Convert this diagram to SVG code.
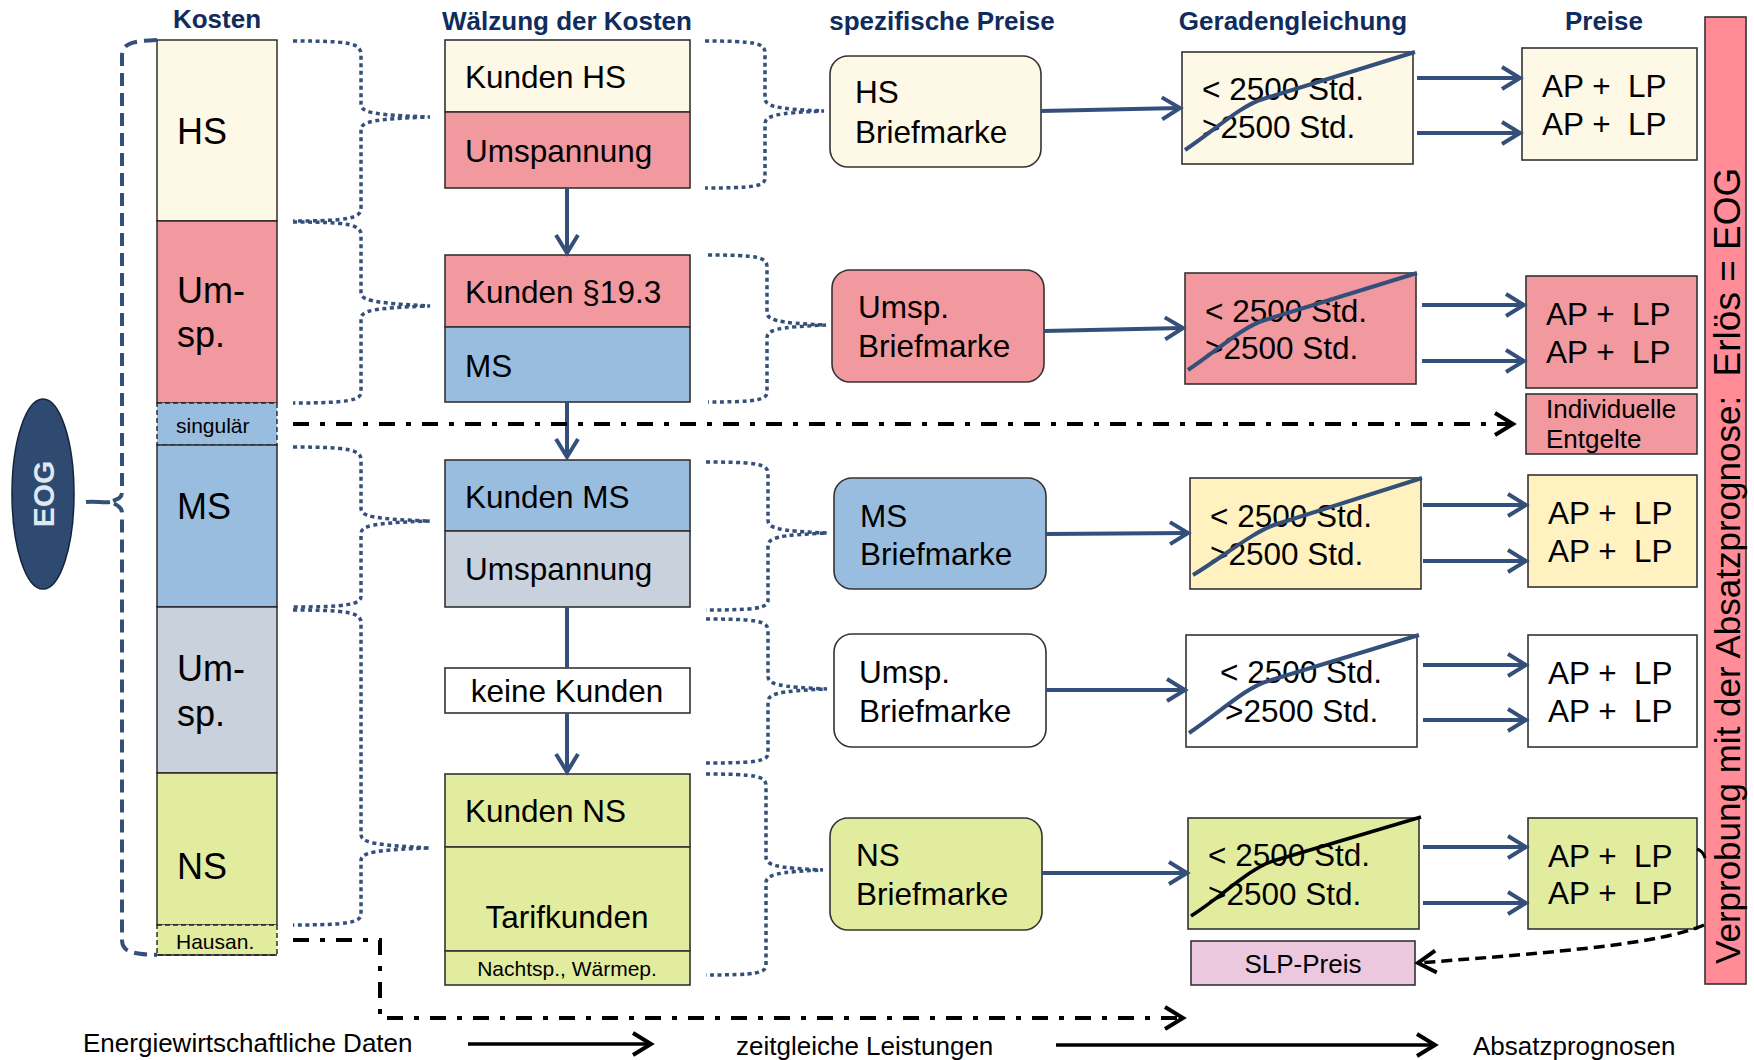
<svg xmlns="http://www.w3.org/2000/svg" width="1754" height="1060" viewBox="0 0 1754 1060">
<style>
text{font-family:"Liberation Sans",Arial,sans-serif;fill:#000}
.t{font-weight:bold;font-size:26px;fill:#102c5c;text-anchor:middle}
.big{font-size:36px}
.m{font-size:31.5px}
.s{font-size:21px}
.lab{font-size:26px}
.mid{text-anchor:middle}
.pre{white-space:pre}
.box{stroke:#333;stroke-width:1.6}
.cell{stroke:#222;stroke-width:1.4}
.dsh{fill:none;stroke:#222;stroke-width:1.4;stroke-dasharray:5 3}
.brace{fill:none;stroke:#34507a;stroke-width:3.5;stroke-dasharray:4 3.5}
.con{fill:none;stroke:#34507a;stroke-width:4}
.blk{fill:none;stroke:#000;stroke-width:3.5}
.dd{fill:none;stroke:#000;stroke-width:4;stroke-dasharray:16 11 5 11}
.cream{fill:#fef8e6}.pink{fill:#f2989f}.blue{fill:#99bddf}.gray{fill:#c9d1dd}
.green{fill:#e2ec9e}.yel{fill:#fff2c0}.white{fill:#fff}.lilac{fill:#ebc8de}
</style>
<defs>
<marker id="aBlue" viewBox="0 -2 22 26" refX="20" refY="11" markerWidth="22" markerHeight="26" markerUnits="userSpaceOnUse" orient="auto" overflow="visible">
<path d="M2,0 L20,11 L2,22" fill="none" stroke="#34507a" stroke-width="4" stroke-linejoin="miter"/>
</marker>
<marker id="aBlack" viewBox="0 -2 22 26" refX="20" refY="11" markerWidth="22" markerHeight="26" markerUnits="userSpaceOnUse" orient="auto" overflow="visible">
<path d="M2,0 L20,11 L2,22" fill="none" stroke="#000" stroke-width="4"/>
</marker>
</defs>

<!-- column headings -->
<g id="headings">
<text class="t" x="217" y="28">Kosten</text>
<text class="t" x="567" y="30">Wälzung der Kosten</text>
<text class="t" x="942" y="30">spezifische Preise</text>
<text class="t" x="1293" y="30">Geradengleichung</text>
<text class="t" x="1604" y="30">Preise</text>
</g>

<!-- EOG ellipse -->
<g id="eog">
<ellipse cx="43" cy="494" rx="31" ry="95" fill="#2f4a70" stroke="#15233a" stroke-width="1.5"/>
<text transform="translate(54,494) rotate(-90)" text-anchor="middle" font-weight="bold" font-size="30" style="fill:#dfe7f1">EOG</text>
</g>

<!-- cost column -->
<g id="kosten">
<rect class="cell cream" x="157" y="40" width="120" height="181"/>
<rect class="cell pink" x="157" y="221" width="120" height="182"/>
<rect x="157" y="403" width="120" height="42" class="blue"/>
<rect class="dsh" x="157" y="403" width="120" height="42"/>
<rect class="cell blue" x="157" y="445" width="120" height="162"/>
<rect class="cell gray" x="157" y="607" width="120" height="166"/>
<rect class="cell green" x="157" y="773" width="120" height="152"/>
<rect x="157" y="925" width="120" height="30" class="green"/>
<rect class="dsh" x="157" y="925" width="120" height="30"/>
<line x1="157" y1="955" x2="277" y2="955" stroke="#222" stroke-width="1.4"/>
<text class="big" x="177" y="144">HS</text>
<text class="big" x="177" y="303">Um-</text>
<text class="big" x="177" y="347">sp.</text>
<text class="s" x="176" y="433">singulär</text>
<text class="big" x="177" y="519">MS</text>
<text class="big" x="177" y="681">Um-</text>
<text class="big" x="177" y="726">sp.</text>
<text class="big" x="177" y="879">NS</text>
<text class="s" x="176" y="949">Hausan.</text>
</g>

<!-- cost rolling column -->
<g id="waelzung-hs">
<rect class="box cream" x="445" y="40" width="245" height="72"/>
<rect class="box pink" x="445" y="112" width="245" height="76"/>
<text class="m" x="465" y="88">Kunden HS</text>
<text class="m" x="465" y="162">Umspannung</text>
</g>
<g id="waelzung-19">
<rect class="box pink" x="445" y="255" width="245" height="72"/>
<rect class="box blue" x="445" y="327" width="245" height="75"/>
<text class="m" x="465" y="303">Kunden §19.3</text>
<text class="m" x="465" y="377">MS</text>
</g>
<g id="waelzung-ms">
<rect class="box blue" x="445" y="460" width="245" height="71"/>
<rect class="box gray" x="445" y="531" width="245" height="76"/>
<text class="m" x="465" y="508">Kunden MS</text>
<text class="m" x="465" y="580">Umspannung</text>
</g>
<g id="keine-kunden">
<rect class="box white" x="445" y="668" width="245" height="45"/>
<text class="m mid" x="567" y="702">keine Kunden</text>
</g>
<g id="waelzung-ns">
<rect class="box green" x="445" y="774" width="245" height="73"/>
<rect class="box green" x="445" y="847" width="245" height="104"/>
<rect class="box green" x="445" y="951" width="245" height="34"/>
<text class="m" x="465" y="822">Kunden NS</text>
<text class="m mid" x="567" y="928">Tarifkunden</text>
<text class="s mid" x="567" y="976">Nachtsp., Wärmep.</text>
</g>

<!-- stamp prices -->
<g id="bm-hs">
<rect class="box cream" x="830" y="56" width="211" height="111" rx="18"/>
<text class="m" x="855" y="103">HS</text>
<text class="m" x="855" y="143">Briefmarke</text>
</g>
<g id="bm-umsp1">
<rect class="box pink" x="832" y="270" width="212" height="112" rx="18"/>
<text class="m" x="858" y="318">Umsp.</text>
<text class="m" x="858" y="357">Briefmarke</text>
</g>
<g id="bm-ms">
<rect class="box blue" x="834" y="478" width="212" height="111" rx="18"/>
<text class="m" x="860" y="527">MS</text>
<text class="m" x="860" y="565">Briefmarke</text>
</g>
<g id="bm-umsp2">
<rect class="box white" x="834" y="634" width="212" height="113" rx="18"/>
<text class="m" x="859" y="683">Umsp.</text>
<text class="m" x="859" y="722">Briefmarke</text>
</g>
<g id="bm-ns">
<rect class="box green" x="830" y="818" width="212" height="112" rx="18"/>
<text class="m" x="856" y="866">NS</text>
<text class="m" x="856" y="905">Briefmarke</text>
</g>

<!-- straight-line equations -->
<g id="gl-hs">
<rect class="box cream" x="1182" y="52" width="231" height="112"/>
<text class="m" x="1202" y="100">&lt; 2500 Std.</text>
<text class="m" x="1202" y="138">&gt;2500 Std.</text>
<path class="con" d="M1185,150 C1215,130 1240,106 1263,99 L1415,52"/>
</g>
<g id="gl-umsp1">
<rect class="box pink" x="1185" y="273" width="231" height="111"/>
<text class="m" x="1205" y="322">&lt; 2500 Std.</text>
<text class="m" x="1205" y="359">&gt;2500 Std.</text>
<path class="con" d="M1188,370 C1218,350 1242,327 1265,320 L1417,273"/>
</g>
<g id="gl-ms">
<rect class="box yel" x="1190" y="478" width="231" height="111"/>
<text class="m" x="1210" y="527">&lt; 2500 Std.</text>
<text class="m" x="1210" y="565">&gt;2500 Std.</text>
<path class="con" d="M1193,575 C1223,557 1254,531 1277,524 L1422,478"/>
</g>
<g id="gl-umsp2">
<rect class="box white" x="1186" y="635" width="231" height="112"/>
<text class="m" x="1220" y="683">&lt; 2500 Std.</text>
<text class="m" x="1225" y="722">&gt;2500 Std.</text>
<path class="con" d="M1189,733 C1219,713 1245,688 1268,681 L1419,635"/>
</g>
<g id="gl-ns">
<rect class="box green" x="1188" y="818" width="231" height="111"/>
<text class="m" x="1208" y="866">&lt; 2500 Std.</text>
<text class="m" x="1208" y="905">&gt;2500 Std.</text>
<path class="blk" d="M1191,916 C1221,897 1250,868 1273,861 L1421,817"/>
</g>
<g id="slp">
<rect class="box lilac" x="1191" y="941" width="224" height="44"/>
<text class="lab mid" x="1303" y="973">SLP-Preis</text>
</g>

<!-- prices -->
<g id="p-hs">
<rect class="box cream" x="1522" y="48" width="175" height="112"/>
<text class="m pre" x="1542" y="97">AP +  LP</text>
<text class="m pre" x="1542" y="135">AP +  LP</text>
</g>
<g id="p-umsp1">
<rect class="box pink" x="1526" y="276" width="171" height="112"/>
<text class="m pre" x="1546" y="325">AP +  LP</text>
<text class="m pre" x="1546" y="363">AP +  LP</text>
</g>
<g id="p-indiv">
<rect class="box pink" x="1526" y="394" width="171" height="60"/>
<text class="lab" x="1546" y="418">Individuelle</text>
<text class="lab" x="1546" y="448">Entgelte</text>
</g>
<g id="p-ms">
<rect class="box yel" x="1528" y="475" width="169" height="112"/>
<text class="m pre" x="1548" y="524">AP +  LP</text>
<text class="m pre" x="1548" y="562">AP +  LP</text>
</g>
<g id="p-umsp2">
<rect class="box white" x="1528" y="635" width="169" height="112"/>
<text class="m pre" x="1548" y="684">AP +  LP</text>
<text class="m pre" x="1548" y="722">AP +  LP</text>
</g>
<g id="p-ns">
<rect class="box green" x="1528" y="818" width="169" height="111"/>
<text class="m pre" x="1548" y="867">AP +  LP</text>
<text class="m pre" x="1548" y="904">AP +  LP</text>
</g>

<!-- revenue check bar -->
<g id="verprobung">
<rect x="1705" y="17" width="41" height="967" fill="#ff8c97" stroke="#333" stroke-width="1.6"/>
<text transform="translate(1740,964) rotate(-90)" class="pre" font-size="35">Verprobung mit der Absatzprognose:  <tspan font-size="37">Erlös = EOG</tspan></text>
</g>

<!-- bottom legend -->
<g id="legend">
<text class="lab" x="83" y="1052">Energiewirtschaftliche Daten</text>
<text class="lab" x="736" y="1055">zeitgleiche Leistungen</text>
<text class="lab" x="1473" y="1055">Absatzprognosen</text>
</g>

<g id="connectors">
<!-- outer bracket around the cost column -->
<path fill="none" stroke="#34507a" stroke-width="4" stroke-dasharray="13 7" d="M157,40 C135,41 122,42 122,56 L122,492 C122,498 118,499 110,502 C118,505 122,507 122,513 L122,940 C122,953 135,954 157,955"/>
<path fill="none" stroke="#34507a" stroke-width="4" d="M86,502 C95,501 104,503 110,502"/>

<!-- braces: costs to rolling -->
<path class="brace" d="M293,41 C350,41 361,43 361,55 L361,104 C361,112 370,115 430,117 C370,119 361,122 361,130 L361,208 C361,218 350,221 293,221"/>
<path class="brace" d="M293,222 C350,222 361,225 361,235 L361,292 C361,300 370,303 430,306 C370,308 361,311 361,319 L361,392 C361,400 350,403 293,403"/>
<path class="brace" d="M293,447 C350,447 361,450 361,460 L361,508 C361,516 370,519 430,521 C370,523 361,526 361,534 L361,596 C361,604 350,607 293,607"/>
<path class="brace" d="M293,610 C350,610 361,613 361,623 L361,834 C361,842 370,845 430,848 C370,850 361,853 361,861 L361,914 C361,922 350,925 293,925"/>

<!-- braces: rolling to stamp prices -->
<path class="brace" d="M705,41 C755,41 765,43 765,53 L765,98 C765,106 774,109 824,111 C774,113 765,116 765,124 L765,178 C765,186 755,188 705,188"/>
<path class="brace" d="M708,255 C757,255 767,257 767,267 L767,312 C767,320 776,323 826,325 C776,327 767,330 767,338 L767,392 C767,400 757,402 708,402"/>
<path class="brace" d="M706,462 C758,462 768,464 768,474 L768,520 C768,528 777,531 827,533 C777,535 768,538 768,546 L768,600 C768,608 758,610 706,610"/>
<path class="brace" d="M706,619 C758,619 768,621 768,631 L768,676 C768,684 777,687 827,689 C777,691 768,694 768,702 L768,753 C768,761 758,763 706,763"/>
<path class="brace" d="M706,774 C756,774 766,776 766,786 L766,857 C766,865 775,868 823,870 C775,872 766,875 766,883 L766,965 C766,973 756,975 706,975"/>

<!-- rolling flow -->
<line class="con" x1="567" y1="188" x2="567" y2="253" marker-end="url(#aBlue)"/>
<line class="con" x1="567" y1="402" x2="567" y2="457" marker-end="url(#aBlue)"/>
<line class="con" x1="567" y1="607" x2="567" y2="668"/>
<line class="con" x1="567" y1="713" x2="567" y2="772" marker-end="url(#aBlue)"/>

<!-- stamp prices to equations -->
<path class="con" d="M1041,111 L1180,108" marker-end="url(#aBlue)"/>
<path class="con" d="M1044,331 L1183,328" marker-end="url(#aBlue)"/>
<path class="con" d="M1046,534 L1188,533" marker-end="url(#aBlue)"/>
<path class="con" d="M1046,690 L1185,690" marker-end="url(#aBlue)"/>
<path class="con" d="M1042,873 L1187,873" marker-end="url(#aBlue)"/>

<!-- equations to prices -->
<line class="con" x1="1417" y1="78" x2="1520" y2="78" marker-end="url(#aBlue)"/>
<line class="con" x1="1417" y1="133" x2="1520" y2="133" marker-end="url(#aBlue)"/>
<line class="con" x1="1422" y1="305" x2="1524" y2="305" marker-end="url(#aBlue)"/>
<line class="con" x1="1422" y1="361" x2="1524" y2="361" marker-end="url(#aBlue)"/>
<line class="con" x1="1423" y1="505" x2="1526" y2="505" marker-end="url(#aBlue)"/>
<line class="con" x1="1423" y1="561" x2="1526" y2="561" marker-end="url(#aBlue)"/>
<line class="con" x1="1423" y1="665" x2="1526" y2="665" marker-end="url(#aBlue)"/>
<line class="con" x1="1423" y1="720" x2="1526" y2="720" marker-end="url(#aBlue)"/>
<line class="con" x1="1423" y1="847" x2="1526" y2="847" marker-end="url(#aBlue)"/>
<line class="con" x1="1423" y1="903" x2="1526" y2="903" marker-end="url(#aBlue)"/>

<!-- singular and house connection paths -->
<path class="dd" d="M293,424 L1513,424" marker-end="url(#aBlack)"/>
<path class="dd" d="M293,940 L380,940 L380,1018 L1183,1018" marker-end="url(#aBlack)"/>

<!-- load profile feedback -->
<path fill="none" stroke="#000" stroke-width="3.5" stroke-dasharray="11 6" d="M1704,925 C1660,944 1560,952 1418,963" marker-end="url(#aBlack)"/>
<path fill="none" stroke="#000" stroke-width="3" d="M1697,849 Q1703,851 1705,858"/>

<!-- legend arrows -->
<line x1="468" y1="1044" x2="651" y2="1044" stroke="#000" stroke-width="3.5" marker-end="url(#aBlack)"/>
<line x1="1056" y1="1045" x2="1435" y2="1045" stroke="#000" stroke-width="3.5" marker-end="url(#aBlack)"/>
</g>
</svg>
